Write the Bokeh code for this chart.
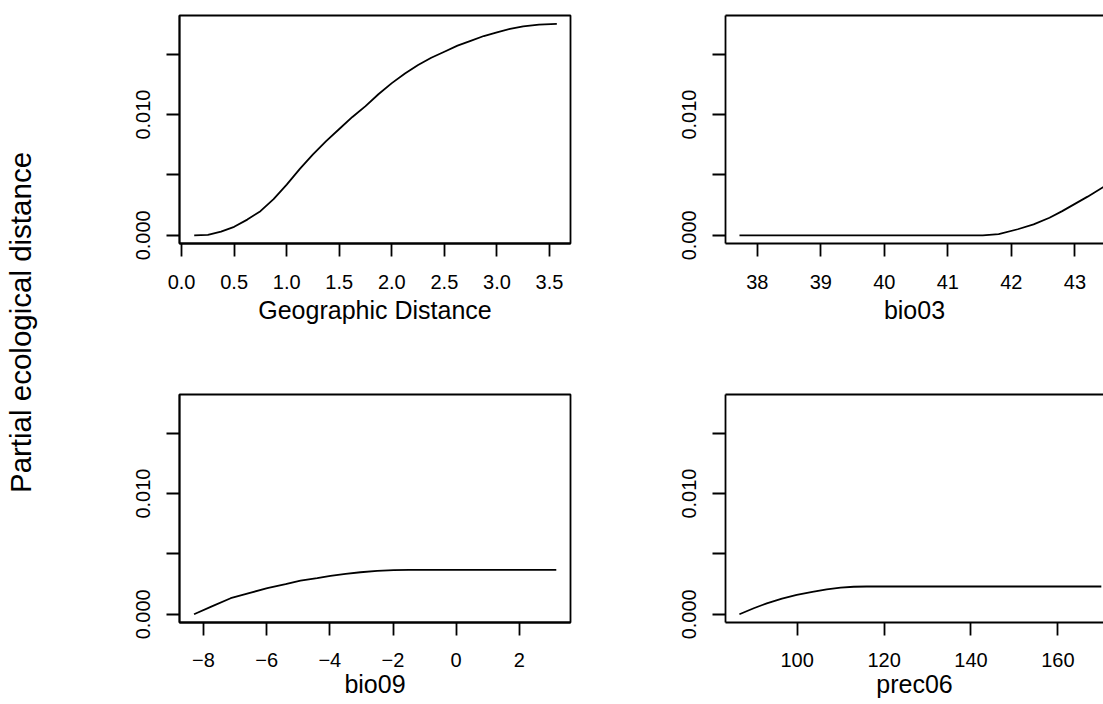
import math
from bokeh.plotting import figure
from bokeh.models import Range1d, FixedTicker, LinearAxis, Label
from bokeh.layouts import row, column
from bokeh.embed import file_html
from bokeh.resources import INLINE

# ---------------- data ----------------
y_label = "Partial ecological distance"
y_ticks = [0.0, 0.005, 0.010, 0.015]
y_tick_labels = ["0.000", "", "0.010", ""]

geo_x = [0.12, 0.25, 0.375, 0.5, 0.625, 0.75, 0.875, 1.0, 1.125, 1.25, 1.375, 1.5, 1.625, 1.75,
         1.875, 2.0, 2.125, 2.25, 2.375, 2.5, 2.625, 2.75, 2.875, 3.0, 3.125, 3.25, 3.4, 3.57]
geo_y = [0.0, 0.00004, 0.0003, 0.0007, 0.0013, 0.0020, 0.0030, 0.0042, 0.0055, 0.0067, 0.0078, 0.0088,
         0.0098, 0.0107, 0.0117, 0.0126, 0.0134, 0.0141, 0.0147, 0.0152, 0.0157, 0.0161, 0.0165, 0.0168,
         0.0171, 0.0173, 0.01745, 0.0175]
geo_ticks = [0.0, 0.5, 1.0, 1.5, 2.0, 2.5, 3.0, 3.5]
geo_tick_labels = ["0.0", "0.5", "1.0", "1.5", "2.0", "2.5", "3.0", "3.5"]

bio03_x = [37.72, 41.55, 41.8, 42.1, 42.35, 42.6, 42.8, 43.0, 43.2, 43.45]
bio03_y = [0.0, 0.0, 0.0001, 0.0005, 0.0009, 0.00145, 0.0020, 0.0026, 0.0032, 0.0040]
bio03_ticks = [38, 39, 40, 41, 42, 43]
bio03_tick_labels = ["38", "39", "40", "41", "42", "43"]

bio09_x = [-8.30, -7.7, -7.14, -6.5, -5.98, -5.4, -4.93, -4.4, -3.98, -3.5, -3.03, -2.5, -1.98, -1.5, 0.0, 3.17]
bio09_y = [0.0, 0.0007, 0.00133, 0.0018, 0.00216, 0.0025, 0.00279, 0.0030, 0.00318, 0.00334, 0.00348, 0.0036,
           0.00366, 0.00367, 0.00367, 0.00367]
bio09_ticks = [-8, -6, -4, -2, 0, 2]
bio09_tick_labels = ["\u22128", "\u22126", "\u22124", "\u22122", "0", "2"]

prec06_x = [86.7, 90.0, 93.0, 96.5, 99.9, 103.5, 106.8, 110.0, 113.0, 116.0, 170.0]
prec06_y = [0.0, 0.0005, 0.00091, 0.0013, 0.0016, 0.00186, 0.00207, 0.0022, 0.00228, 0.0023, 0.0023]
prec06_ticks = [100, 120, 140, 160]
prec06_tick_labels = ["100", "120", "140", "160"]

FONT = "Liberation Sans"
Y_RANGE = (-0.00068, 0.0182)
LW = 1.8


def style_axis(ax):
    ax.axis_line_color = "black"
    ax.axis_line_width = LW
    ax.major_tick_line_color = "black"
    ax.major_tick_line_width = LW
    ax.major_tick_in = 0
    ax.major_tick_out = 13
    ax.minor_tick_line_color = None
    ax.major_label_text_font = FONT
    ax.major_label_text_font_size = "20px"
    ax.major_label_text_color = "black"
    ax.axis_label_text_font = FONT
    ax.axis_label_text_font_size = "25px"
    ax.axis_label_text_font_style = "normal"
    ax.axis_label_text_color = "black"


def panel(xs, ys, xr, xticks, xlabels, title, width, height, mbl, mbr, mbt, mbb, full_box,
          lab_standoff, title_standoff):
    p = figure(width=width, height=height, output_backend="svg", toolbar_location=None,
               x_range=Range1d(*xr), y_range=Range1d(*Y_RANGE),
               min_border_left=mbl, min_border_right=mbr, min_border_top=mbt, min_border_bottom=mbb,
               background_fill_color="white", border_fill_color="white")
    p.grid.visible = False
    p.line(xs, ys, line_color="black", line_width=LW)

    xa = p.below[0]
    style_axis(xa)
    xa.ticker = FixedTicker(ticks=xticks)
    xa.major_label_overrides = {t: l for t, l in zip(xticks, xlabels)}
    xa.axis_label = title
    xa.major_label_standoff = lab_standoff
    xa.axis_label_standoff = title_standoff

    ya = p.left[0]
    style_axis(ya)
    ya.ticker = FixedTicker(ticks=y_ticks)
    ya.major_label_overrides = {t: l for t, l in zip(y_ticks, y_tick_labels)}
    ya.major_label_orientation = "parallel"
    ya.major_label_standoff = 16

    if full_box:
        p.outline_line_color = "black"
        p.outline_line_width = LW
    else:
        p.outline_line_color = None
        top = LinearAxis(ticker=FixedTicker(ticks=[]))
        top.axis_line_width = LW
        top.axis_line_color = "black"
        top.major_tick_line_color = None
        top.minor_tick_line_color = None
        top.major_tick_out = 0
        top.major_label_standoff = 0
        top.major_label_text_font_size = "0px"
        p.add_layout(top, "above")
    return p


p1 = panel(geo_x, geo_y, (-0.02, 3.70), geo_ticks, geo_tick_labels, "Geographic Distance",
           500, 340, 59, 50, 15, 97, True, 18, 4)
p2 = panel(bio03_x, bio03_y, (37.5, 43.45), bio03_ticks, bio03_tick_labels, "bio03",
           483, 340, 105, 0, 15, 97, False, 18, 4)
p3 = panel(bio09_x, bio09_y, (-8.76, 3.62), bio09_ticks, bio09_tick_labels, "bio09",
           500, 364, 59, 50, 54, 82, True, 17, 0)
p4 = panel(prec06_x, prec06_y, (83.5, 170.5), prec06_ticks, prec06_tick_labels, "prec06",
           483, 364, 105, 0, 54, 82, False, 17, 0)

lab = figure(width=120, height=704, output_backend="svg", toolbar_location=None,
             x_range=Range1d(0, 120), y_range=Range1d(0, 704),
             min_border_left=0, min_border_right=0, min_border_top=0, min_border_bottom=0)
lab.axis.visible = False
lab.grid.visible = False
lab.outline_line_color = None
lab.add_layout(Label(x=20, y=382, text=y_label, angle=math.pi / 2, text_align="center",
                     text_baseline="middle", text_font=FONT, text_font_size="29.5px",
                     text_color="black"))

layout = row(lab, column(row(p1, p2), row(p3, p4)))

open("out.html", "w").write(file_html(layout, INLINE))
